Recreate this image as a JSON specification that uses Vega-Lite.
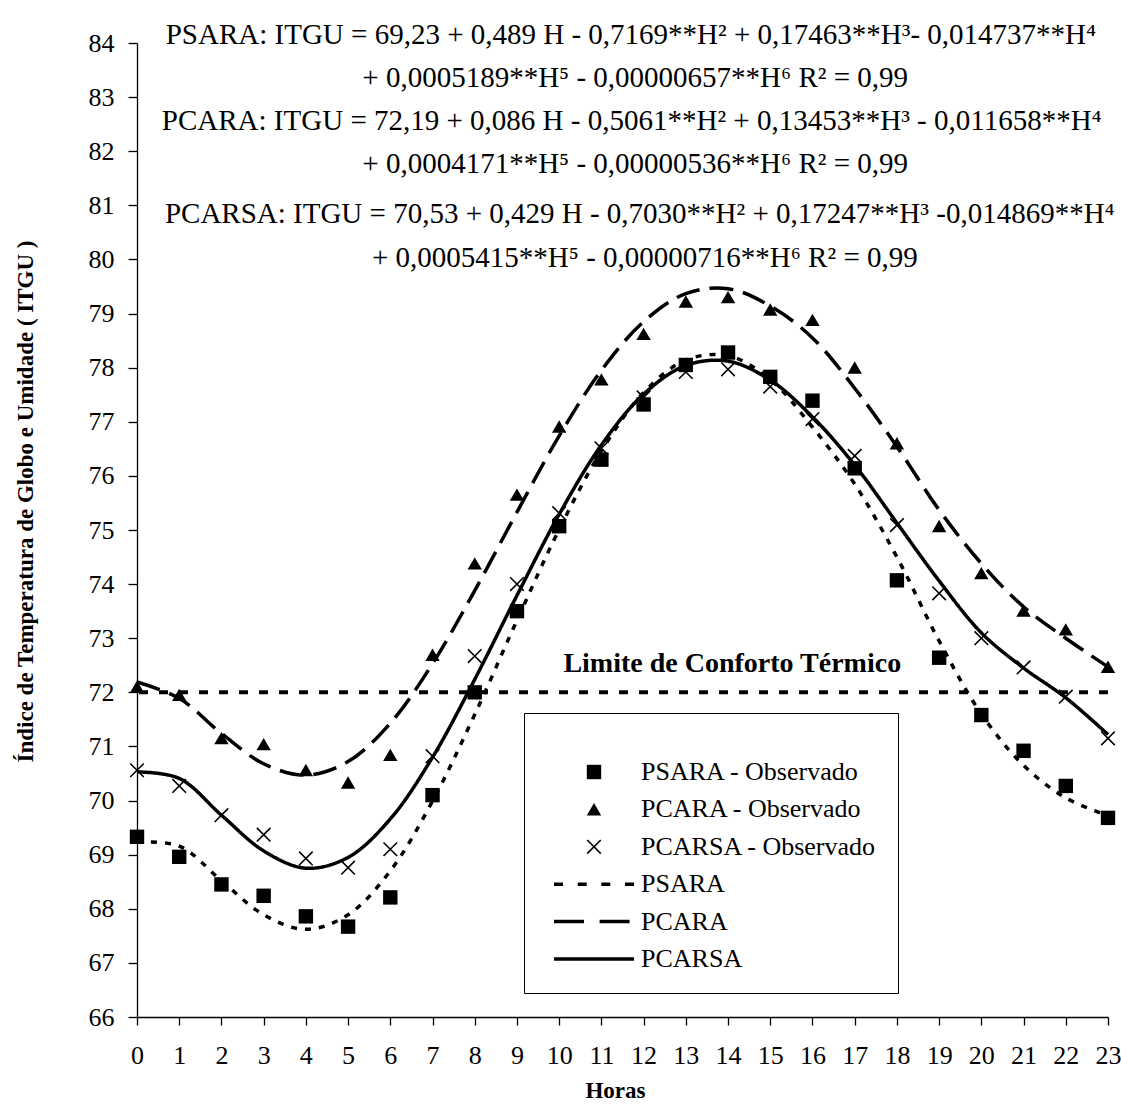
{
  "$schema": "https://vega.github.io/schema/vega-lite/v6.json",
  "width": 971,
  "height": 974,
  "autosize": {"type": "none"},
  "padding": {"left": 137, "top": 43, "right": 13, "bottom": 91},
  "background": "white",
  "config": {
    "view": {"stroke": null},
    "font": "Liberation Serif",
    "axis": {"grid": false, "domainColor": "black", "tickColor": "black", "labelColor": "black", "titleColor": "black", "labelFont": "Liberation Serif", "titleFont": "Liberation Serif", "labelFlush": false, "labelOverlap": false}
  },
  "datasets": {
    "observado": [
      {"hora": 0, "serie": "PSARA - Observado", "itgu": 69.33}, {"hora": 1, "serie": "PSARA - Observado", "itgu": 68.96}, {"hora": 2, "serie": "PSARA - Observado", "itgu": 68.45}, {"hora": 3, "serie": "PSARA - Observado", "itgu": 68.24}, {"hora": 4, "serie": "PSARA - Observado", "itgu": 67.86}, {"hora": 5, "serie": "PSARA - Observado", "itgu": 67.67}, {"hora": 6, "serie": "PSARA - Observado", "itgu": 68.21}, {"hora": 7, "serie": "PSARA - Observado", "itgu": 70.10}, {"hora": 8, "serie": "PSARA - Observado", "itgu": 72.00}, {"hora": 9, "serie": "PSARA - Observado", "itgu": 73.50}, {"hora": 10, "serie": "PSARA - Observado", "itgu": 75.07}, {"hora": 11, "serie": "PSARA - Observado", "itgu": 76.30}, {"hora": 12, "serie": "PSARA - Observado", "itgu": 77.32}, {"hora": 13, "serie": "PSARA - Observado", "itgu": 78.05}, {"hora": 14, "serie": "PSARA - Observado", "itgu": 78.28}, {"hora": 15, "serie": "PSARA - Observado", "itgu": 77.83}, {"hora": 16, "serie": "PSARA - Observado", "itgu": 77.39}, {"hora": 17, "serie": "PSARA - Observado", "itgu": 76.14}, {"hora": 18, "serie": "PSARA - Observado", "itgu": 74.07}, {"hora": 19, "serie": "PSARA - Observado", "itgu": 72.64}, {"hora": 20, "serie": "PSARA - Observado", "itgu": 71.58}, {"hora": 21, "serie": "PSARA - Observado", "itgu": 70.92}, {"hora": 22, "serie": "PSARA - Observado", "itgu": 70.27}, {"hora": 23, "serie": "PSARA - Observado", "itgu": 69.68},
      {"hora": 0, "serie": "PCARA - Observado", "itgu": 72.10}, {"hora": 1, "serie": "PCARA - Observado", "itgu": 71.95}, {"hora": 2, "serie": "PCARA - Observado", "itgu": 71.15}, {"hora": 3, "serie": "PCARA - Observado", "itgu": 71.04}, {"hora": 4, "serie": "PCARA - Observado", "itgu": 70.56}, {"hora": 5, "serie": "PCARA - Observado", "itgu": 70.33}, {"hora": 6, "serie": "PCARA - Observado", "itgu": 70.84}, {"hora": 7, "serie": "PCARA - Observado", "itgu": 72.69}, {"hora": 8, "serie": "PCARA - Observado", "itgu": 74.38}, {"hora": 9, "serie": "PCARA - Observado", "itgu": 75.65}, {"hora": 10, "serie": "PCARA - Observado", "itgu": 76.91}, {"hora": 11, "serie": "PCARA - Observado", "itgu": 77.78}, {"hora": 12, "serie": "PCARA - Observado", "itgu": 78.62}, {"hora": 13, "serie": "PCARA - Observado", "itgu": 79.22}, {"hora": 14, "serie": "PCARA - Observado", "itgu": 79.30}, {"hora": 15, "serie": "PCARA - Observado", "itgu": 79.07}, {"hora": 16, "serie": "PCARA - Observado", "itgu": 78.88}, {"hora": 17, "serie": "PCARA - Observado", "itgu": 78.00}, {"hora": 18, "serie": "PCARA - Observado", "itgu": 76.60}, {"hora": 19, "serie": "PCARA - Observado", "itgu": 75.07}, {"hora": 20, "serie": "PCARA - Observado", "itgu": 74.20}, {"hora": 21, "serie": "PCARA - Observado", "itgu": 73.51}, {"hora": 22, "serie": "PCARA - Observado", "itgu": 73.16}, {"hora": 23, "serie": "PCARA - Observado", "itgu": 72.47},
      {"hora": 0, "serie": "PCARSA - Observado", "itgu": 70.56}, {"hora": 1, "serie": "PCARSA - Observado", "itgu": 70.27}, {"hora": 2, "serie": "PCARSA - Observado", "itgu": 69.73}, {"hora": 3, "serie": "PCARSA - Observado", "itgu": 69.37}, {"hora": 4, "serie": "PCARSA - Observado", "itgu": 68.93}, {"hora": 5, "serie": "PCARSA - Observado", "itgu": 68.76}, {"hora": 6, "serie": "PCARSA - Observado", "itgu": 69.10}, {"hora": 7, "serie": "PCARSA - Observado", "itgu": 70.82}, {"hora": 8, "serie": "PCARSA - Observado", "itgu": 72.67}, {"hora": 9, "serie": "PCARSA - Observado", "itgu": 74.00}, {"hora": 10, "serie": "PCARSA - Observado", "itgu": 75.31}, {"hora": 11, "serie": "PCARSA - Observado", "itgu": 76.51}, {"hora": 12, "serie": "PCARSA - Observado", "itgu": 77.45}, {"hora": 13, "serie": "PCARSA - Observado", "itgu": 77.92}, {"hora": 14, "serie": "PCARSA - Observado", "itgu": 77.97}, {"hora": 15, "serie": "PCARSA - Observado", "itgu": 77.65}, {"hora": 16, "serie": "PCARSA - Observado", "itgu": 77.05}, {"hora": 17, "serie": "PCARSA - Observado", "itgu": 76.37}, {"hora": 18, "serie": "PCARSA - Observado", "itgu": 75.09}, {"hora": 19, "serie": "PCARSA - Observado", "itgu": 73.83}, {"hora": 20, "serie": "PCARSA - Observado", "itgu": 73.00}, {"hora": 21, "serie": "PCARSA - Observado", "itgu": 72.46}, {"hora": 22, "serie": "PCARSA - Observado", "itgu": 71.92}, {"hora": 23, "serie": "PCARSA - Observado", "itgu": 71.15}
    ],
    "ajustado": [
      {"hora": 0, "serie": "PSARA", "itgu": 69.23}, {"hora": 1, "serie": "PSARA", "itgu": 69.16}, {"hora": 2, "serie": "PSARA", "itgu": 68.52}, {"hora": 3, "serie": "PSARA", "itgu": 67.89}, {"hora": 4, "serie": "PSARA", "itgu": 67.62}, {"hora": 5, "serie": "PSARA", "itgu": 67.89}, {"hora": 6, "serie": "PSARA", "itgu": 68.70}, {"hora": 7, "serie": "PSARA", "itgu": 69.99}, {"hora": 8, "serie": "PSARA", "itgu": 71.59}, {"hora": 9, "serie": "PSARA", "itgu": 73.33}, {"hora": 10, "serie": "PSARA", "itgu": 75.01}, {"hora": 11, "serie": "PSARA", "itgu": 76.46}, {"hora": 12, "serie": "PSARA", "itgu": 77.54}, {"hora": 13, "serie": "PSARA", "itgu": 78.14}, {"hora": 14, "serie": "PSARA", "itgu": 78.22}, {"hora": 15, "serie": "PSARA", "itgu": 77.78}, {"hora": 16, "serie": "PSARA", "itgu": 76.90}, {"hora": 17, "serie": "PSARA", "itgu": 75.85}, {"hora": 18, "serie": "PSARA", "itgu": 74.50}, {"hora": 19, "serie": "PSARA", "itgu": 72.95}, {"hora": 20, "serie": "PSARA", "itgu": 71.60}, {"hora": 21, "serie": "PSARA", "itgu": 70.65}, {"hora": 22, "serie": "PSARA", "itgu": 70.05}, {"hora": 23, "serie": "PSARA", "itgu": 69.72},
      {"hora": 0, "serie": "PCARA", "itgu": 72.19}, {"hora": 1, "serie": "PCARA", "itgu": 71.89}, {"hora": 2, "serie": "PCARA", "itgu": 71.24}, {"hora": 3, "serie": "PCARA", "itgu": 70.68}, {"hora": 4, "serie": "PCARA", "itgu": 70.47}, {"hora": 5, "serie": "PCARA", "itgu": 70.72}, {"hora": 6, "serie": "PCARA", "itgu": 71.43}, {"hora": 7, "serie": "PCARA", "itgu": 72.53}, {"hora": 8, "serie": "PCARA", "itgu": 73.88}, {"hora": 9, "serie": "PCARA", "itgu": 75.33}, {"hora": 10, "serie": "PCARA", "itgu": 76.74}, {"hora": 11, "serie": "PCARA", "itgu": 77.95}, {"hora": 12, "serie": "PCARA", "itgu": 78.85}, {"hora": 13, "serie": "PCARA", "itgu": 79.37}, {"hora": 14, "serie": "PCARA", "itgu": 79.46}, {"hora": 15, "serie": "PCARA", "itgu": 79.14}, {"hora": 16, "serie": "PCARA", "itgu": 78.55}, {"hora": 17, "serie": "PCARA", "itgu": 77.62}, {"hora": 18, "serie": "PCARA", "itgu": 76.54}, {"hora": 19, "serie": "PCARA", "itgu": 75.37}, {"hora": 20, "serie": "PCARA", "itgu": 74.38}, {"hora": 21, "serie": "PCARA", "itgu": 73.58}, {"hora": 22, "serie": "PCARA", "itgu": 73.00}, {"hora": 23, "serie": "PCARA", "itgu": 72.47},
      {"hora": 0, "serie": "PCARSA", "itgu": 70.53}, {"hora": 1, "serie": "PCARSA", "itgu": 70.41}, {"hora": 2, "serie": "PCARSA", "itgu": 69.73}, {"hora": 3, "serie": "PCARSA", "itgu": 69.07}, {"hora": 4, "serie": "PCARSA", "itgu": 68.75}, {"hora": 5, "serie": "PCARSA", "itgu": 68.95}, {"hora": 6, "serie": "PCARSA", "itgu": 69.66}, {"hora": 7, "serie": "PCARSA", "itgu": 70.80}, {"hora": 8, "serie": "PCARSA", "itgu": 72.24}, {"hora": 9, "serie": "PCARSA", "itgu": 73.79}, {"hora": 10, "serie": "PCARSA", "itgu": 75.29}, {"hora": 11, "serie": "PCARSA", "itgu": 76.57}, {"hora": 12, "serie": "PCARSA", "itgu": 77.51}, {"hora": 13, "serie": "PCARSA", "itgu": 78.04}, {"hora": 14, "serie": "PCARSA", "itgu": 78.12}, {"hora": 15, "serie": "PCARSA", "itgu": 77.77}, {"hora": 16, "serie": "PCARSA", "itgu": 77.09}, {"hora": 17, "serie": "PCARSA", "itgu": 76.20}, {"hora": 18, "serie": "PCARSA", "itgu": 75.13}, {"hora": 19, "serie": "PCARSA", "itgu": 74.06}, {"hora": 20, "serie": "PCARSA", "itgu": 73.10}, {"hora": 21, "serie": "PCARSA", "itgu": 72.45}, {"hora": 22, "serie": "PCARSA", "itgu": 71.90}, {"hora": 23, "serie": "PCARSA", "itgu": 71.22}
    ]
  },
  "layer": [
    {
      "data": {"values": [{}]},
      "mark": {"type": "rule", "color": "black", "strokeWidth": 4, "strokeDash": [9, 11]},
      "encoding": {"y": {"datum": 72, "type": "quantitative", "title": "Índice de Temperatura de Globo e Umidade ( ITGU )"}}
    },
    {
      "data": {"name": "ajustado"},
      "mark": {"type": "line", "interpolate": "catmull-rom", "strokeWidth": 3.5, "color": "black", "strokeCap": "butt"},
      "encoding": {
        "x": {
          "field": "hora", "type": "quantitative", "title": "Horas",
          "scale": {"domain": [0, 23], "nice": false, "zero": false},
          "axis": {"values": [0,1,2,3,4,5,6,7,8,9,10,11,12,13,14,15,16,17,18,19,20,21,22,23], "format": "d", "labelFontSize": 26, "labelBaseline": "alphabetic", "labelAlign": "center", "labelPadding": 38, "tickSize": 8, "domainWidth": 1.3, "tickWidth": 1.3, "titleFontSize": 23, "titleFontWeight": "bold", "titleBaseline": "alphabetic", "titleX": 478, "titleY": 80, "titleAlign": "center"}
        },
        "y": {
          "field": "itgu", "type": "quantitative", "title": "Índice de Temperatura de Globo e Umidade ( ITGU )",
          "scale": {"domain": [66, 84], "nice": false, "zero": false},
          "axis": {"values": [66,67,68,69,70,71,72,73,74,75,76,77,78,79,80,81,82,83,84], "format": "d", "labelFontSize": 26, "labelPadding": 14, "labelBaseline": "middle", "tickSize": 9, "domainWidth": 1.3, "tickWidth": 1.3, "titleFontSize": 23, "titleFontWeight": "bold", "titleAngle": 270, "titleX": -112, "titleY": 458, "titleAlign": "center", "titleBaseline": "middle"}
        },
        "strokeDash": {
          "field": "serie", "type": "nominal",
          "scale": {"domain": ["PSARA", "PCARA", "PCARSA"], "range": [[6, 8], [24, 10], [1, 0]]},
          "legend": null
        }
      }
    },
    {
      "data": {"name": "observado"},
      "mark": {"type": "point", "filled": true, "color": "black", "size": 400, "opacity": 1},
      "encoding": {
        "x": {"field": "hora", "type": "quantitative", "title": "Horas"},
        "y": {"field": "itgu", "type": "quantitative", "title": "Índice de Temperatura de Globo e Umidade ( ITGU )"},
        "shape": {
          "field": "serie", "type": "nominal",
          "scale": {
            "domain": ["PSARA - Observado", "PCARA - Observado", "PCARSA - Observado", "PSARA", "PCARA", "PCARSA"],
            "range": [
              "M-0.72,-0.72H0.72V0.72H-0.72Z",
              "M0,-0.64L0.72,0.6H-0.72Z",
              "M-0.624,-0.736L0.736,0.624L0.624,0.736L-0.736,-0.624ZM-0.736,0.624L0.624,-0.736L0.736,-0.624L-0.624,0.736Z",
              "M-4,-0.175H-3.1V0.175H-4ZM-1.63,-0.175H-0.73V0.175H-1.63ZM0.73,-0.175H1.63V0.175H0.73ZM3.1,-0.175H4V0.175H3.1Z",
              "M-4,-0.175H-1V0.175H-4ZM0.56,-0.175H3.56V0.175H0.56Z",
              "M-4,-0.175H4V0.175H-4Z"
            ]
          },
          "legend": {
            "title": " ", "titleFontSize": 13, "titlePadding": 12,
            "orient": "none", "legendX": 387, "legendY": 670,
            "padding": 21, "strokeColor": "black", "fillColor": "white",
            "symbolOffset": 36, "labelOffset": 34, "rowPadding": 11.4,
            "symbolSize": 400, "symbolFillColor": "black", "symbolStrokeWidth": 0,
            "labelFont": "Liberation Serif", "labelFontSize": 26, "labelLimit": 0, "labelColor": "black"
          }
        }
      }
    },
    {
      "data": {"values": [{}]},
      "mark": {"type": "text", "text": "Limite de Conforto Térmico", "font": "Liberation Serif", "fontSize": 28, "fontWeight": "bold", "align": "center", "baseline": "alphabetic", "color": "black"},
      "encoding": {"x": {"datum": 14.1, "type": "quantitative", "title": "Horas"}, "y": {"datum": 72.377, "type": "quantitative", "title": "Índice de Temperatura de Globo e Umidade ( ITGU )"}}
    },
    {
      "data": {"values": [{}]},
      "mark": {"type": "text", "text": "PSARA: ITGU  = 69,23 + 0,489 H - 0,7169**H² + 0,17463**H³- 0,014737**H⁴", "font": "Liberation Serif", "fontSize": 29, "align": "center", "baseline": "alphabetic", "color": "black"},
      "encoding": {"x": {"datum": 11.70, "type": "quantitative", "title": "Horas"}, "y": {"datum": 83.976, "type": "quantitative", "title": "Índice de Temperatura de Globo e Umidade ( ITGU )"}}
    },
    {
      "data": {"values": [{}]},
      "mark": {"type": "text", "text": "+ 0,0005189**H⁵ - 0,00000657**H⁶  R² = 0,99", "font": "Liberation Serif", "fontSize": 29, "align": "center", "baseline": "alphabetic", "color": "black"},
      "encoding": {"x": {"datum": 11.80, "type": "quantitative", "title": "Horas"}, "y": {"datum": 83.181, "type": "quantitative", "title": "Índice de Temperatura de Globo e Umidade ( ITGU )"}}
    },
    {
      "data": {"values": [{}]},
      "mark": {"type": "text", "text": "PCARA: ITGU = 72,19 + 0,086 H - 0,5061**H² + 0,13453**H³ - 0,011658**H⁴", "font": "Liberation Serif", "fontSize": 29, "align": "center", "baseline": "alphabetic", "color": "black"},
      "encoding": {"x": {"datum": 11.72, "type": "quantitative", "title": "Horas"}, "y": {"datum": 82.392, "type": "quantitative", "title": "Índice de Temperatura de Globo e Umidade ( ITGU )"}}
    },
    {
      "data": {"values": [{}]},
      "mark": {"type": "text", "text": "+ 0,0004171**H⁵ - 0,00000536**H⁶  R² = 0,99", "font": "Liberation Serif", "fontSize": 29, "align": "center", "baseline": "alphabetic", "color": "black"},
      "encoding": {"x": {"datum": 11.80, "type": "quantitative", "title": "Horas"}, "y": {"datum": 81.602, "type": "quantitative", "title": "Índice de Temperatura de Globo e Umidade ( ITGU )"}}
    },
    {
      "data": {"values": [{}]},
      "mark": {"type": "text", "text": "PCARSA: ITGU = 70,53 + 0,429 H - 0,7030**H² + 0,17247**H³ -0,014869**H⁴", "font": "Liberation Serif", "fontSize": 29, "align": "center", "baseline": "alphabetic", "color": "black"},
      "encoding": {"x": {"datum": 11.91, "type": "quantitative", "title": "Horas"}, "y": {"datum": 80.678, "type": "quantitative", "title": "Índice de Temperatura de Globo e Umidade ( ITGU )"}}
    },
    {
      "data": {"values": [{}]},
      "mark": {"type": "text", "text": "+ 0,0005415**H⁵ - 0,00000716**H⁶   R² = 0,99", "font": "Liberation Serif", "fontSize": 29, "align": "center", "baseline": "alphabetic", "color": "black"},
      "encoding": {"x": {"datum": 12.03, "type": "quantitative", "title": "Horas"}, "y": {"datum": 79.864, "type": "quantitative", "title": "Índice de Temperatura de Globo e Umidade ( ITGU )"}}
    }
  ]
}
